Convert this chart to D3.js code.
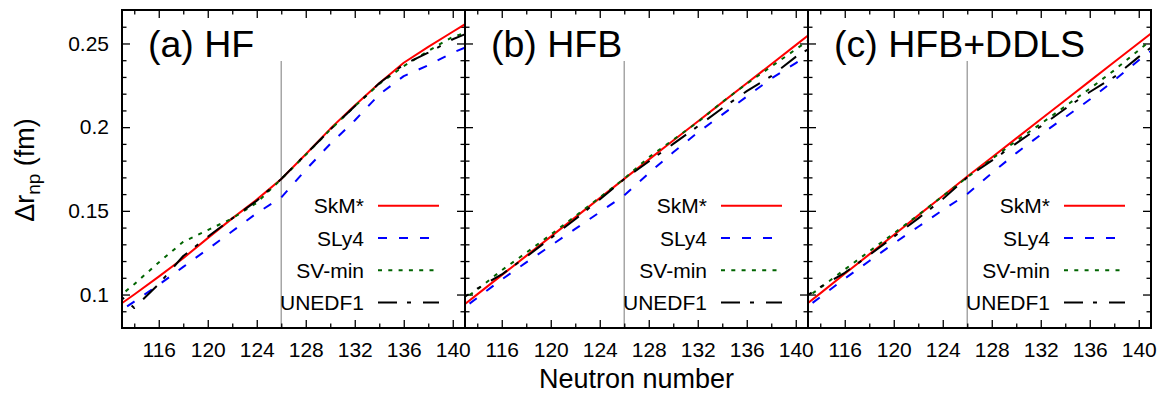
<!DOCTYPE html>
<html>
<head>
<meta charset="utf-8">
<script src="https://cdn.jsdelivr.net/npm/d3@7/dist/d3.min.js"></script>
<style>
  html, body { margin: 0; padding: 0; background: #fff; }
  svg { display: block; font-family: "Liberation Sans", Arial, Helvetica, sans-serif; }
</style>
</head>
<body>
<svg id="chart" width="1169" height="393"></svg>
<script>
// ---------------- data ----------------
const neutrons = [112,114,116,118,120,122,124,126,128,130,132,134,136,138,140,142];
const seriesNames = ["SkM*", "SLy4", "SV-min", "UNEDF1"];
const panelLabels = ["(a) HF", "(b) HFB", "(c) HFB+DDLS"];
const xTickValues = [116,120,124,128,132,136,140];
const xMinorTicks = [114,118,122,126,130,134,138];
const yTickValues = [0.1,0.15,0.2,0.25];
const yTickLabels = ["0.1","0.15","0.2","0.25"];
const shellClosure = 126;

// (a) HF
const hfSkM    = [0.0897,0.1000,0.1107,0.1217,0.1337,0.1455,0.1567,0.1690,0.1838,0.1990,0.2130,0.2262,0.2385,0.2480,0.2570,0.2660];
const hfSLy4   = [0.0858,0.0958,0.1058,0.1165,0.1271,0.1378,0.1486,0.1580,0.1745,0.1900,0.2040,0.2195,0.2305,0.2370,0.2445,0.2505];
const hfSVmin  = [0.0940,0.1062,0.1192,0.1315,0.1385,0.1455,0.1548,0.1690,0.1835,0.1985,0.2125,0.2258,0.2365,0.2455,0.2540,0.2585];
const hfUNEDF1 = [0.1048,0.0920,0.1063,0.1230,0.1345,0.1455,0.1560,0.1690,0.1838,0.1985,0.2125,0.2262,0.2375,0.2445,0.2525,0.2585];
// (b) HFB
const hfbSkM    = [0.0886,0.1001,0.1116,0.1231,0.1346,0.1461,0.1576,0.1691,0.1806,0.1920,0.2034,0.2148,0.2262,0.2376,0.2490,0.2604];
const hfbSLy4   = [0.0870,0.0980,0.1090,0.1192,0.1292,0.1392,0.1492,0.1592,0.1725,0.1850,0.1968,0.2075,0.2183,0.2290,0.2383,0.2475];
const hfbSVmin  = [0.0925,0.1030,0.1145,0.1250,0.1358,0.1468,0.1580,0.1692,0.1820,0.1925,0.2030,0.2150,0.2260,0.2362,0.2465,0.2565];
const hfbUNEDF1 = [0.0940,0.1035,0.1120,0.1225,0.1337,0.1450,0.1568,0.1690,0.1795,0.1900,0.2005,0.2113,0.2215,0.2305,0.2420,0.2510];
// (c) HFB+DDLS
const ddSkM    = [0.0891,0.1007,0.1124,0.1240,0.1356,0.1473,0.1589,0.1705,0.1819,0.1933,0.2047,0.2161,0.2275,0.2389,0.2503,0.2617];
const ddSLy4   = [0.0875,0.0985,0.1095,0.1200,0.1305,0.1405,0.1505,0.1600,0.1725,0.1845,0.1955,0.2060,0.2165,0.2280,0.2400,0.2510];
const ddSVmin  = [0.0935,0.1040,0.1150,0.1258,0.1365,0.1475,0.1588,0.1700,0.1810,0.1918,0.2020,0.2125,0.2230,0.2340,0.2460,0.2580];
const ddUNEDF1 = [0.0950,0.1045,0.1130,0.1235,0.1345,0.1455,0.1570,0.1700,0.1800,0.1903,0.2005,0.2110,0.2210,0.2300,0.2420,0.2530];

const panelData = [
  [hfSkM, hfSLy4, hfSVmin, hfUNEDF1],
  [hfbSkM, hfbSLy4, hfbSVmin, hfbUNEDF1],
  [ddSkM, ddSLy4, ddSVmin, ddUNEDF1]
];

// ---------------- styles ----------------
const colors = ["#ff0000", "#0000ff", "#006400", "#000000"];
const dashes = [null, "9,12", "4,6.3", "19,10,4,12"];
const font = '"Liberation Sans", Arial, Helvetica, sans-serif';

// ---------------- layout ----------------
const plotLeft = 122, panelW = 343, plotTop = 10, plotBottom = 328;
const svg = d3.select("#chart");

const y = d3.scaleLinear().domain([0.08, 0.27]).range([plotBottom, plotTop]);

panelData.forEach((series, pi) => {
  const left = plotLeft + pi * panelW;
  const x = d3.scaleLinear().domain([113, 141]).range([left, left + panelW]);
  const g = svg.append("g");

  const clipId = "clip" + pi;
  svg.append("clipPath").attr("id", clipId)
    .append("rect").attr("x", left).attr("y", plotTop).attr("width", panelW).attr("height", plotBottom - plotTop);

  // shell-closure line
  g.append("line")
    .attr("x1", x(shellClosure)).attr("x2", x(shellClosure))
    .attr("y1", y(0.2395)).attr("y2", y(0.08))
    .attr("stroke", "#a6a6a6").attr("stroke-width", 1.5);

  // axes (ticks point inward)
  const xb = d3.axisBottom(x).tickValues(xTickValues).tickSizeInner(-8).tickSizeOuter(0).tickPadding(14);
  const xbm = d3.axisBottom(x).tickValues(xMinorTicks).tickSizeInner(-4.5).tickSizeOuter(0).tickFormat("");
  const xt = d3.axisTop(x).tickValues(xTickValues).tickSizeInner(-8).tickSizeOuter(0).tickFormat("");
  const xtm = d3.axisTop(x).tickValues(xMinorTicks).tickSizeInner(-4.5).tickSizeOuter(0).tickFormat("");
  const yMinor = d3.range(0.09, 0.2651, 0.01).map(v => +v.toFixed(2)).filter(v => !yTickValues.some(t => Math.abs(t - v) < 1e-6));
  const yl = d3.axisLeft(y).tickValues(yTickValues).tickSizeInner(-8).tickSizeOuter(0).tickPadding(13)
    .tickFormat((d, i) => pi === 0 ? yTickLabels[i] : "");
  const ylm = d3.axisLeft(y).tickValues(yMinor).tickSizeInner(-4.5).tickSizeOuter(0).tickFormat("");
  const yr = d3.axisRight(y).tickValues(yTickValues).tickSizeInner(-8).tickSizeOuter(0).tickFormat("");
  const yrm = d3.axisRight(y).tickValues(yMinor).tickSizeInner(-4.5).tickSizeOuter(0).tickFormat("");

  const axes = [
    [xb, `translate(0,${plotBottom})`], [xbm, `translate(0,${plotBottom})`],
    [xt, `translate(0,${plotTop})`], [xtm, `translate(0,${plotTop})`],
    [yl, `translate(${left},0)`], [ylm, `translate(${left},0)`],
    [yr, `translate(${left + panelW},0)`], [yrm, `translate(${left + panelW},0)`]
  ];
  axes.forEach(([ax, tr]) => {
    const a = g.append("g").attr("transform", tr).call(ax);
    a.select(".domain").remove();
    a.selectAll("line").attr("stroke", "#000").attr("stroke-width", 1.3);
    a.selectAll("text").attr("font-family", font).attr("font-size", 21).attr("fill", "#000");
  });

  // series lines
  const line = d3.line().x((d, i) => x(neutrons[i])).y(d => y(d));
  series.forEach((vals, si) => {
    g.append("path")
      .datum(vals)
      .attr("clip-path", `url(#${clipId})`)
      .attr("d", line)
      .attr("fill", "none")
      .attr("stroke", colors[si])
      .attr("stroke-width", 2)
      .attr("stroke-dasharray", dashes[si])
      .attr("stroke-linejoin", "round");
  });

  // panel label
  g.append("text")
    .attr("x", left + 26).attr("y", 57)
    .attr("font-family", font).attr("font-size", 37.5)
    .text(panelLabels[pi]);

  // legend
  seriesNames.forEach((name, si) => {
    const ly = 205.7 + si * 32.3;
    g.append("text")
      .attr("x", left + 242).attr("y", ly + 7.5)
      .attr("text-anchor", "end")
      .attr("font-family", font).attr("font-size", 21)
      .text(name);
    g.append("line")
      .attr("x1", left + 256).attr("x2", left + 317)
      .attr("y1", ly).attr("y2", ly)
      .attr("stroke", colors[si]).attr("stroke-width", 2)
      .attr("stroke-dasharray", dashes[si]);
  });

  // border
  g.append("rect")
    .attr("x", left).attr("y", plotTop).attr("width", panelW).attr("height", plotBottom - plotTop)
    .attr("fill", "none").attr("stroke", "#000").attr("stroke-width", 2);
});

// axis titles
svg.append("text")
  .attr("x", plotLeft + 1.5 * panelW).attr("y", 388)
  .attr("text-anchor", "middle")
  .attr("font-family", font).attr("font-size", 27)
  .text("Neutron number");

const yTitle = svg.append("text")
  .attr("transform", "translate(34,170) rotate(-90)")
  .attr("text-anchor", "middle")
  .attr("font-family", font).attr("font-size", 27);
yTitle.append("tspan").text("Δr");
yTitle.append("tspan").attr("font-size", 19).attr("dy", 6).text("np");
yTitle.append("tspan").attr("dy", -6).text(" (fm)");
</script>
</body>
</html>
